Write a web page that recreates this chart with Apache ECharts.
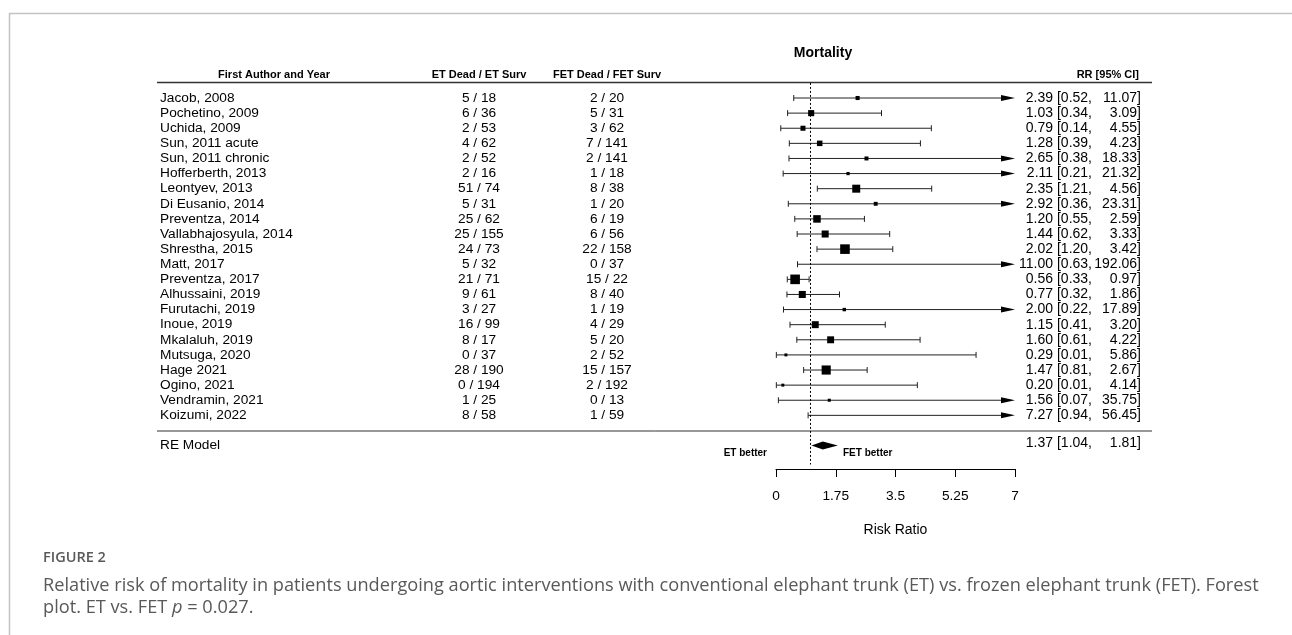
<!DOCTYPE html>
<html>
<head>
<meta charset="utf-8">
<script src="https://cdn.jsdelivr.net/npm/echarts@6/dist/echarts.min.js"></script>
<style>
  html, body { margin: 0; padding: 0; background: #fff; }
  #chart { width: 1292px; height: 635px; }
</style>
</head>
<body>
<div id="chart"></div>
<script>
// study rows, top to bottom
const studies = ['Jacob, 2008', 'Pochetino, 2009', 'Uchida, 2009', 'Sun, 2011 acute', 'Sun, 2011 chronic',
  'Hofferberth, 2013', 'Leontyev, 2013', 'Di Eusanio, 2014', 'Preventza, 2014', 'Vallabhajosyula, 2014',
  'Shrestha, 2015', 'Matt, 2017', 'Preventza, 2017', 'Alhussaini, 2019', 'Furutachi, 2019', 'Inoue, 2019',
  'Mkalaluh, 2019', 'Mutsuga, 2020', 'Hage 2021', 'Ogino, 2021', 'Vendramin, 2021', 'Koizumi, 2022']
const etDead = [5, 6, 2, 4, 2, 2, 51, 5, 25, 25, 24, 5, 21, 9, 3, 16, 8, 0, 28, 0, 1, 8]
const etSurv = [18, 36, 53, 62, 52, 16, 74, 31, 62, 155, 73, 32, 71, 61, 27, 99, 17, 37, 190, 194, 25, 58]
const fetDead = [2, 5, 3, 7, 2, 1, 8, 1, 6, 6, 22, 0, 15, 8, 1, 4, 5, 2, 15, 2, 0, 1]
const fetSurv = [20, 31, 62, 141, 141, 18, 38, 20, 19, 56, 158, 37, 22, 40, 19, 29, 20, 52, 157, 192, 13, 59]
const rr = [2.39, 1.03, 0.79, 1.28, 2.65, 2.11, 2.35, 2.92, 1.20, 1.44, 2.02, 11.00, 0.56, 0.77, 2.00, 1.15, 1.60, 0.29, 1.47, 0.20, 1.56, 7.27]
const ciLow = [0.52, 0.34, 0.14, 0.39, 0.38, 0.21, 1.21, 0.36, 0.55, 0.62, 1.20, 0.63, 0.33, 0.32, 0.22, 0.41, 0.61, 0.01, 0.81, 0.01, 0.07, 0.94]
const ciHigh = [11.07, 3.09, 4.55, 4.23, 18.33, 21.32, 4.56, 23.31, 2.59, 3.33, 3.42, 192.06, 0.97, 1.86, 17.89, 3.20, 4.22, 5.86, 2.67, 4.14, 35.75, 56.45]
// study weights (%)
const weights = [2.2, 4.3, 3.2, 3.7, 2.1, 1.3, 6.3, 2.0, 5.8, 5.3, 8.0, 1.0, 8.0, 5.3, 1.5, 5.2, 5.2, 1.0, 7.5, 1.0, 1.1, 1.8]
// random effects model
const reLabel = 'RE Model'
const reEst = 1.37
const reLow = 1.04
const reHigh = 1.81
// axis
const xTicks = [0, 1.75, 3.5, 5.25, 7]

const FONT = '"Liberation Sans", Arial, sans-serif'
const CAPFONT = '"Open Sans", sans-serif'
const X_MAX = xTicks[xTicks.length - 1]
const RE_ROW = studies.length + 1

const colName = 160
const colEt = 479
const colFet = 607
const colCiMid = 1092
const colCiEnd = 1141
const ciSize = 14

function txt(x, y, text, o) {
  o = o || {}
  const align = o.align || 'left'
  const va = o.va || 'middle'
  return {
    type: 'text',
    x: x, y: y,
    silent: true,
    style: Object.assign({
      text: text,
      fill: o.color || '#000',
      fontSize: o.size || 13.7,
      fontFamily: o.family || FONT,
      fontWeight: o.weight || 'normal',
      align: align, textAlign: align,
      verticalAlign: va, textVerticalAlign: va
    }, o.extra || {})
  }
}

const f2 = (v) => v.toFixed(2)

const chart = echarts.init(document.getElementById('chart'))

const option = {
  animation: false,
  grid: { left: 776, top: 82.9, width: 239, height: 386.1 },
  xAxis: {
    type: 'value',
    min: 0,
    max: X_MAX,
    interval: 1.75,
    axisLine: { show: true, onZero: false, lineStyle: { color: '#000', width: 1 } },
    axisTick: { show: true, length: 8, lineStyle: { color: '#000' } },
    axisLabel: { margin: 20, fontSize: 13.7, color: '#000', fontFamily: FONT, formatter: (v) => String(v) },
    splitLine: { show: false },
    name: 'Risk Ratio',
    nameLocation: 'middle',
    nameGap: 54,
    nameTextStyle: { fontSize: 14, color: '#000', fontFamily: FONT }
  },
  yAxis: { type: 'value', inverse: true, min: -1, max: 24.55, show: false },
  series: [
    {
      // confidence intervals + squares
      type: 'custom',
      clip: false,
      silent: true,
      data: rr.map((v, i) => [ciLow[i], ciHigh[i], v, weights[i], i]),
      encode: { x: [0, 1, 2], y: 4 },
      renderItem: (params, api) => {
        const lo = api.value(0)
        const hi = api.value(1)
        const est = api.value(2)
        const w = api.value(3)
        const row = api.value(4)
        const p1 = api.coord([lo, row])
        const p2 = api.coord([Math.min(hi, X_MAX), row])
        const y = p1[1]
        const children = []
        const clipped = hi > X_MAX
        children.push({ type: 'line', shape: { x1: p1[0], y1: y, x2: clipped ? p2[0] - 12 : p2[0], y2: y }, style: { stroke: '#222', lineWidth: 1 } })
        children.push({ type: 'line', shape: { x1: p1[0], y1: y - 3, x2: p1[0], y2: y + 3 }, style: { stroke: '#222', lineWidth: 1 } })
        if (clipped) {
          children.push({ type: 'polygon', shape: { points: [[p2[0] - 14, y - 3], [p2[0], y], [p2[0] - 14, y + 3]] }, style: { fill: '#000' } })
        } else {
          children.push({ type: 'line', shape: { x1: p2[0], y1: y - 3, x2: p2[0], y2: y + 3 }, style: { stroke: '#222', lineWidth: 1 } })
        }
        if (est <= X_MAX) {
          const pe = api.coord([est, row])
          const s = 2 + 0.95 * w
          children.push({ type: 'rect', shape: { x: pe[0] - s / 2, y: y - s / 2, width: s, height: s }, style: { fill: '#000' } })
        }
        return { type: 'group', children: children }
      },
      markLine: {
        silent: true,
        symbol: ['none', 'none'],
        label: { show: false },
        lineStyle: { color: '#000', type: [2, 2], width: 1 },
        data: [[{ coord: [1, -1] }, { coord: [1, 24.25] }]]
      }
    },
    {
      // summary diamond
      type: 'custom',
      clip: false,
      silent: true,
      data: [[reLow, reHigh, reEst, RE_ROW]],
      encode: { x: [0, 1, 2], y: 3 },
      renderItem: (params, api) => {
        const row = api.value(3)
        const a = api.coord([api.value(0), row])
        const b = api.coord([api.value(2), row])
        const c = api.coord([api.value(1), row])
        return {
          type: 'polygon',
          shape: { points: [[a[0], a[1]], [b[0], b[1] - 4], [c[0], c[1]], [b[0], b[1] + 4]] },
          style: { fill: '#000' }
        }
      }
    },
    {
      // table text per row
      type: 'custom',
      clip: false,
      silent: true,
      data: studies.map((s, i) => [0, i]),
      encode: { x: 0, y: 1 },
      renderItem: (params, api) => {
        const i = params.dataIndex
        const y = api.coord([0, api.value(1)])[1]
        return {
          type: 'group',
          children: [
            txt(colName, y, studies[i]),
            txt(colEt, y, etDead[i] + ' / ' + etSurv[i], { align: 'center' }),
            txt(colFet, y, fetDead[i] + ' / ' + fetSurv[i], { align: 'center' }),
            txt(colCiMid, y, f2(rr[i]) + ' [' + f2(ciLow[i]) + ',', { align: 'right', size: ciSize }),
            txt(colCiEnd, y, f2(ciHigh[i]) + ']', { align: 'right', size: ciSize })
          ]
        }
      }
    },
    {
      type: 'custom',
      clip: false,
      silent: true,
      data: [[0, RE_ROW]],
      encode: { x: 0, y: 1 },
      renderItem: (params, api) => {
        const y = api.coord([0, api.value(1)])[1]
        return {
          type: 'group',
          children: [
            txt(colName, y, reLabel),
            txt(colCiMid, y - 2, f2(reEst) + ' [' + f2(reLow) + ',', { align: 'right', size: ciSize }),
            txt(colCiEnd, y - 2, f2(reHigh) + ']', { align: 'right', size: ciSize })
          ]
        }
      }
    }
  ],
  graphic: [
    // figure frame
    { type: 'line', silent: true, shape: { x1: 9, y1: 13.5, x2: 1292, y2: 13.5 }, style: { stroke: '#c4c4c4', lineWidth: 1.5 } },
    { type: 'line', silent: true, shape: { x1: 9.5, y1: 13, x2: 9.5, y2: 635 }, style: { stroke: '#c4c4c4', lineWidth: 1.5 } },
    // table rules
    { type: 'line', silent: true, shape: { x1: 157, y1: 82.5, x2: 1152, y2: 82.5 }, style: { stroke: '#333', lineWidth: 1.6 } },
    { type: 'line', silent: true, shape: { x1: 157, y1: 431, x2: 1152, y2: 431 }, style: { stroke: '#333', lineWidth: 1 } },
    txt(823, 53, 'Mortality', { align: 'center', weight: 'bold', size: 14 }),
    txt(274, 74.5, 'First Author and Year', { align: 'center', weight: 'bold', size: 11 }),
    txt(colEt, 74.5, 'ET Dead / ET Surv', { align: 'center', weight: 'bold', size: 11 }),
    txt(colFet, 74.5, 'FET Dead / FET Surv', { align: 'center', weight: 'bold', size: 11 }),
    txt(1139, 74.5, 'RR [95% CI]', { align: 'right', weight: 'bold', size: 11 }),
    txt(767, 453, 'ET better', { align: 'right', weight: 'bold', size: 10 }),
    txt(843, 453, 'FET better', { align: 'left', weight: 'bold', size: 10 }),
    // caption
    txt(43, 558, 'FIGURE 2', { family: CAPFONT, weight: 600, size: 14.5, color: '#595959' }),
    txt(43, 586, 'Relative risk of mortality in patients undergoing aortic interventions with conventional elephant trunk (ET) vs. frozen elephant trunk (FET). Forest', { family: CAPFONT, size: 18.2, color: '#595959' }),
    txt(43, 608, 'plot. ET vs. FET {i|p} = 0.027.', {
      family: CAPFONT, size: 18.2, color: '#595959',
      extra: { rich: { i: { fontStyle: 'italic', fontFamily: CAPFONT, fontSize: 18.2, fill: '#595959' } } }
    })
  ]
}

chart.setOption(option)
window.addEventListener('resize', chart.resize)
</script>
</body>
</html>
